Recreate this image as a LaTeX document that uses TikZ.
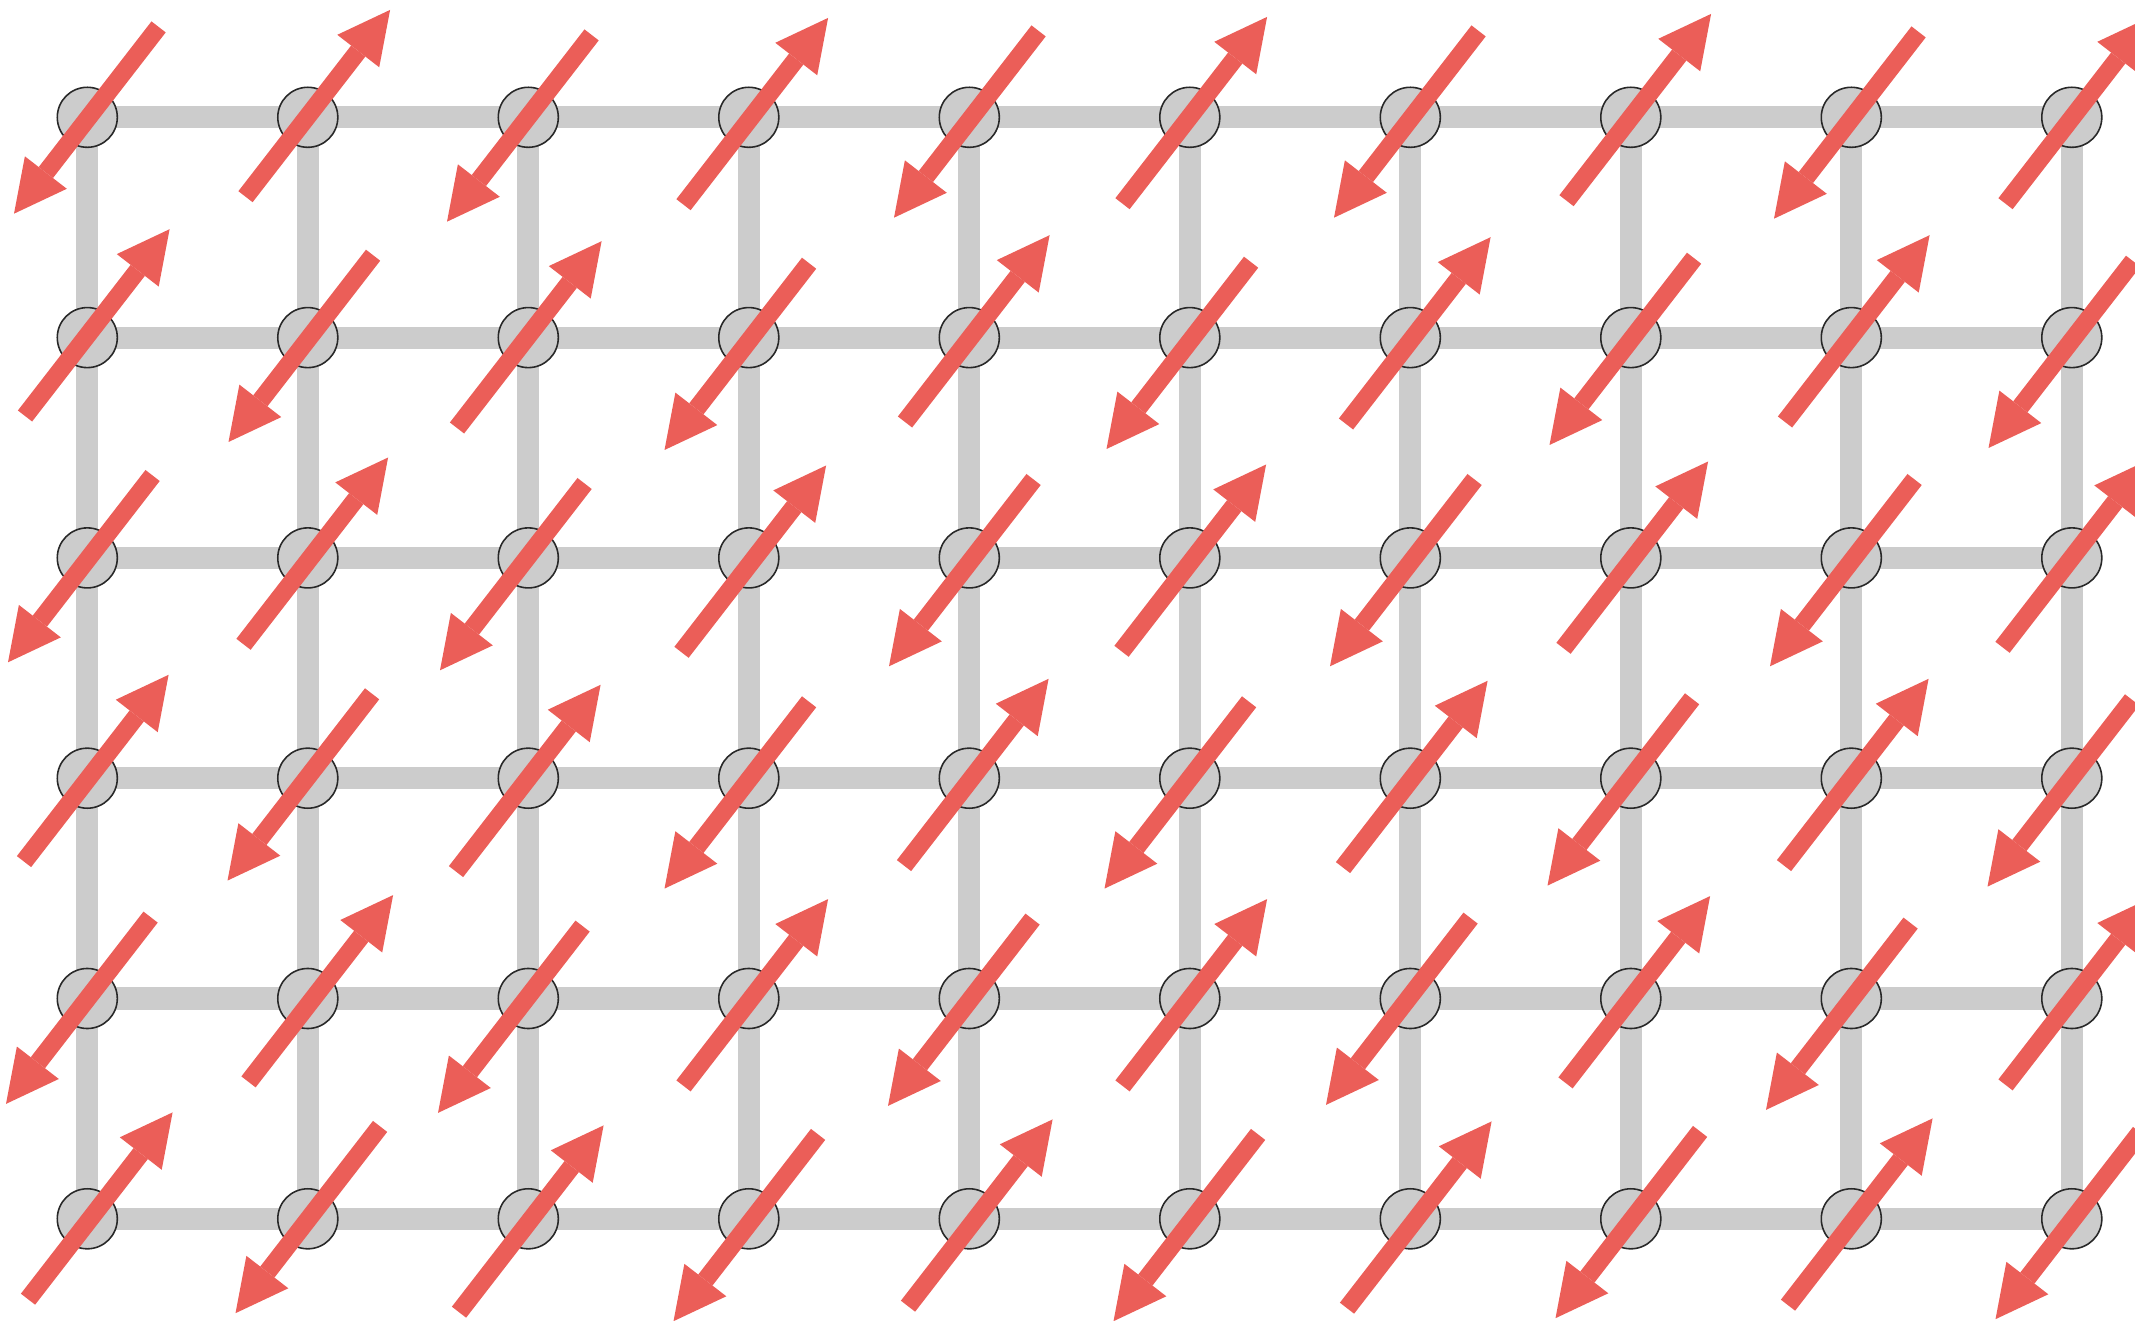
\documentclass[tikz,border=0pt]{standalone}
\usepackage{tikz}
\usetikzlibrary{arrows.meta,calc,backgrounds}
\definecolor{spinred}{RGB}{235,94,88}
\definecolor{bondgray}{RGB}{204,204,204}
\definecolor{siteedge}{RGB}{40,40,40}

\begin{document}
\begin{tikzpicture}[x=0.01cm, y=0.01cm,
  site/.style={circle, draw=siteedge, line width=0.45pt, fill=bondgray, minimum size=0.6cm, inner sep=0pt},
  bond/.style={draw=bondgray, line width=0.22cm},
  spin/.style={draw=spinred, line width=0.18cm, -{Triangle[width=0.53cm, length=0.52cm, line width=0pt]}}]
\useasboundingbox (0,0) rectangle (2135,1320);
\clip (0,0) rectangle (2135,1320);
% lattice sites
\foreach \i in {1,...,10}{
  \foreach \j in {1,...,6}{
    \node[site] (s-\i-\j) at ({87.3+220.5*(\i-1)},{1202.7-220.3*(\j-1)}) {};
  }
}
% bonds, under the sites
\begin{scope}[on background layer]
\foreach \j in {1,...,6}
  \draw[bond] (s-1-\j.center) -- (s-10-\j.center);
\foreach \i in {1,...,10}
  \draw[bond] (s-\i-1.center) -- (s-\i-6.center);
\end{scope}
% spins: up where i+j is odd, down where even, each slightly shifted
\foreach \i/\j/\dx/\dy in {
  1/1/-1/-3, 2/1/10/14, 3/1/-9/-11, 4/1/7/6, 5/1/-3/-7, 6/1/5/7, 7/1/-4/-7, 8/1/8/10, 9/1/-5/-8, 10/1/6/7,
  1/2/10/15, 2/2/-7/-11, 3/2/1/3, 4/2/-12/-19, 5/2/8/9, 6/2/-11/-18, 7/2/8/7, 8/2/-9/-14, 9/2/6/9, 10/2/-11/-17,
  1/3/-7/-11, 2/3/8/7, 3/3/-16/-19, 4/3/5/-1, 5/3/-8/-15, 6/3/4/0, 7/3/-8/-15, 8/3/5/3, 9/3/-9/-15, 10/3/3/4,
  1/4/9/10, 2/4/-8/-9, 3/4/0/0, 4/4/-12/-17, 5/4/7/6, 6/4/-13/-17, 7/4/5/4, 8/4/-11/-14, 9/4/5/6, 10/4/-12/-15,
  1/5/-9/-12, 2/5/13/10, 3/5/-18/-21, 4/5/7/6, 5/5/-9/-14, 6/5/5/6, 7/5/-12/-13, 8/5/7/9, 9/5/-13/-18, 10/5/6/7,
  1/6/13/13, 2/6/0/-1, 3/6/3/0, 4/6/-3/-9, 5/6/11/6, 6/6/-4/-9, 7/6/9/4, 8/6/-3/-6, 9/6/9/7, 10/6/-4/-7}{
  \pgfmathsetmacro\sg{2*mod(\i+\j,2)-1}
  \draw[spin] ($(s-\i-\j)+({\dx-72.3*(\sg)},{\dy-93.4*(\sg)})$) -- ($(s-\i-\j)+({\dx+72.3*(\sg)},{\dy+93.4*(\sg)})$);
}
\end{tikzpicture}
\end{document}
